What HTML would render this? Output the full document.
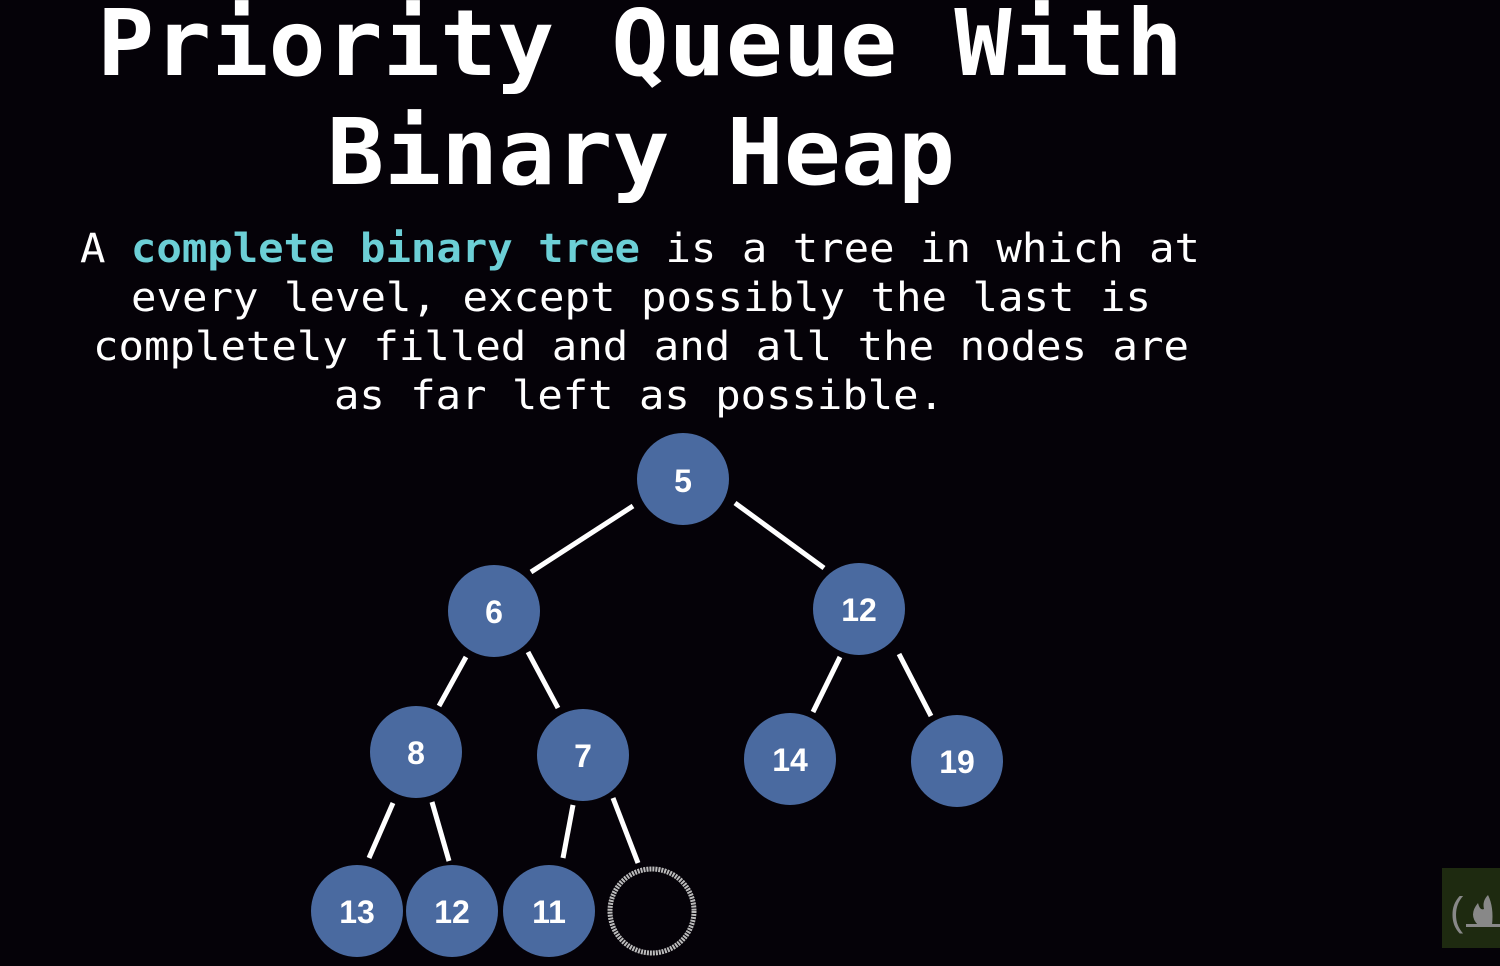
<!DOCTYPE html>
<html><head><meta charset="utf-8"><style>
html,body{margin:0;padding:0;background:#050208;width:1500px;height:966px;overflow:hidden}
</style></head><body>
<svg width="1500" height="966" viewBox="0 0 1500 966" xmlns="http://www.w3.org/2000/svg">
<rect width="1500" height="966" fill="#050208"/>
<g font-family="'DejaVu Sans Mono', 'Liberation Mono', monospace" font-weight="bold" fill="#fff" font-size="92">
<text x="97" y="75" textLength="1086" lengthAdjust="spacingAndGlyphs">Priority Queue With</text>
<text x="327" y="184" textLength="628" lengthAdjust="spacingAndGlyphs">Binary Heap</text>
</g>
<g font-family="'DejaVu Sans Mono', 'Liberation Mono', monospace" fill="#fff" font-size="40">
<text x="80" y="262" textLength="1120" lengthAdjust="spacingAndGlyphs">A <tspan fill="#6ccfd6" font-weight="bold">complete binary tree</tspan> is a tree in which at</text>
<text x="131" y="311" textLength="1020" lengthAdjust="spacingAndGlyphs">every level, except possibly the last is</text>
<text x="93" y="360" textLength="1096" lengthAdjust="spacingAndGlyphs">completely filled and and all the nodes are</text>
<text x="334" y="409" textLength="610" lengthAdjust="spacingAndGlyphs">as far left as possible.</text>
</g>
<g stroke="#fff" stroke-width="5" stroke-linecap="butt">
<line x1="633" y1="506" x2="531" y2="572"/>
<line x1="735" y1="503" x2="824" y2="568"/>
<line x1="466" y1="657" x2="439" y2="706"/>
<line x1="528" y1="652" x2="558" y2="708"/>
<line x1="840" y1="657" x2="813" y2="712"/>
<line x1="899" y1="654" x2="931" y2="716"/>
<line x1="393" y1="803" x2="369" y2="858"/>
<line x1="432" y1="802" x2="449" y2="861"/>
<line x1="573" y1="805" x2="563" y2="858"/>
<line x1="613" y1="798" x2="638" y2="863"/>
</g>
<g fill="#4a6aa0">
<circle cx="683" cy="479" r="46"/>
<circle cx="494" cy="611" r="46"/>
<circle cx="859" cy="609" r="46"/>
<circle cx="416" cy="752" r="46"/>
<circle cx="583" cy="755" r="46"/>
<circle cx="790" cy="759" r="46"/>
<circle cx="957" cy="761" r="46"/>
<circle cx="357" cy="911" r="46"/>
<circle cx="452" cy="911" r="46"/>
<circle cx="549" cy="911" r="46"/>
</g>
<circle cx="652" cy="911" r="42" fill="none" stroke="#bbb" stroke-width="5" stroke-dasharray="2 1"/>
<g font-family="'Liberation Sans', sans-serif" font-weight="bold" fill="#fff" font-size="32" text-anchor="middle">
<text x="683" y="492">5</text>
<text x="494" y="623">6</text>
<text x="859" y="621">12</text>
<text x="416" y="764">8</text>
<text x="583" y="767">7</text>
<text x="790" y="771">14</text>
<text x="957" y="773">19</text>
<text x="357" y="923">13</text>
<text x="452" y="923">12</text>
<text x="549" y="923">11</text>
</g>
<rect x="1442" y="868" width="58" height="80" fill="#1e2a10"/>
<text x="1450" y="925" font-family="'Liberation Sans', sans-serif" font-size="40" fill="#888">(</text>
<path d="M1478 925 q-10 -10 0 -22 q2 8 6 6 q-2 -8 4 -14 q6 12 4 30z" fill="#888"/>
<rect x="1466" y="924" width="34" height="3" fill="#888"/>
</svg>
</body></html>
